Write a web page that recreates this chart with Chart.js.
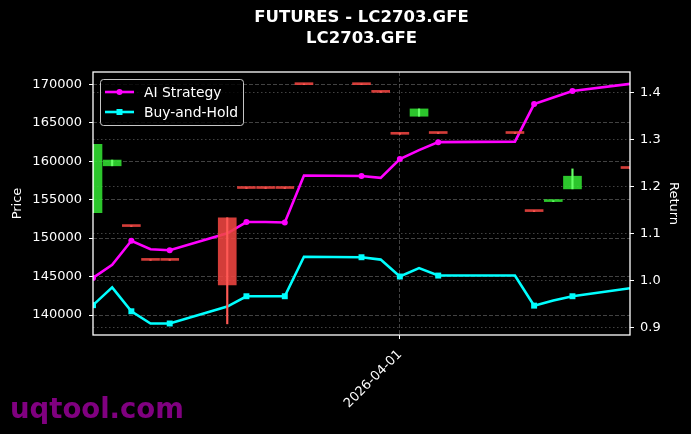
<!DOCTYPE html>
<html>
<head>
<meta charset="utf-8">
<script src="https://cdn.jsdelivr.net/npm/chart.js@4.4.1/dist/chart.umd.min.js"></script>
<style>
  html, body { margin: 0; padding: 0; background: #000; }
  #wrap { width: 691px; height: 434px; }
</style>
</head>
<body>
<div id="wrap"><canvas id="myChart" width="691" height="434"></canvas></div>
<script>
const dates = ['2026-03-16', '2026-03-17', '2026-03-18', '2026-03-19', '2026-03-20',
  '2026-03-23', '2026-03-24', '2026-03-25', '2026-03-26', '2026-03-27',
  '2026-03-30', '2026-03-31', '2026-04-01', '2026-04-02', '2026-04-03',
  '2026-04-07', '2026-04-08', '2026-04-09', '2026-04-10', '2026-04-13'];
const opens  = [153300, 159400, 151600, 147200, 147200, 152650, 156550, 156550, 156550, 170050,
  170050, 169050, 163600, 165850, 163700, 163700, 153550, 154750, 156400, 159150];
const highs  = [162200, 160150, 151600, 147200, 147200, 152650, 156550, 156550, 156550, 170050,
  170050, 169050, 163600, 166800, 163700, 163700, 153550, 154850, 159000, 159150];
const lows   = [153300, 159400, 151500, 147100, 147100, 138850, 156450, 156450, 156450, 169950,
  169950, 168950, 163500, 165850, 163600, 163600, 153450, 154750, 156400, 159050];
const closes = [162200, 160150, 151500, 147100, 147100, 143900, 156450, 156450, 156450, 169950,
  169950, 168950, 163500, 166800, 163600, 163600, 153450, 154850, 158050, 159050];
const aiStrategy = [1.005, 1.033, 1.084, 1.066, 1.064, 1.100, 1.124, 1.124, 1.123, 1.223,
  1.222, 1.218, 1.258, 1.277, 1.294, 1.295, 1.375, 1.389, 1.403, 1.418];
const buyHold = [0.947, 0.985, 0.934, 0.908, 0.908, 0.944, 0.966, 0.966, 0.966, 1.050,
  1.049, 1.044, 1.008, 1.026, 1.010, 1.010, 0.946, 0.957, 0.966, 0.983];
const priceTicks = [140000, 145000, 150000, 155000, 160000, 165000, 170000];
const returnTicks = [0.9, 1.0, 1.1, 1.2, 1.3, 1.4];
const dateTicks = ['2026-04-01'];

const DAY = 86400000;
const t0 = Date.parse(dates[0]);
const dayOf = d => Math.round((Date.parse(d) - t0) / DAY);
const xs = dates.map(dayOf);

const up = closes.map((c, i) => c >= opens[i]);
const bodyColor = up.map(u => u ? 'rgba(50,225,50,0.88)' : 'rgba(240,70,65,0.88)');
const wickColor = up.map(u => u ? '#6f6' : '#ff5a55');

const FONT = "'DejaVu Sans', sans-serif";
const gridGray = 'rgba(120,120,120,0.55)';

const overlay = {
  id: 'overlay',
  afterDraw(chart) {
    const { ctx, chartArea: a } = chart;
    ctx.save();
    // frame
    ctx.strokeStyle = '#fff';
    ctx.lineWidth = 1.3;
    ctx.strokeRect(a.left, a.top, a.right - a.left, a.bottom - a.top);
    // title
    const cx = (a.left + a.right) / 2;
    ctx.fillStyle = '#fff';
    ctx.textAlign = 'center';
    ctx.textBaseline = 'middle';
    ctx.font = 'bold 16.5px ' + FONT;
    ctx.fillText('FUTURES - LC2703.GFE', cx, 18);
    ctx.fillText('LC2703.GFE', cx, 39);
    // legend
    const lx = 100.5, ly = 79.5, lw = 143, lh = 46;
    ctx.beginPath();
    ctx.roundRect(lx, ly, lw, lh, 3);
    ctx.fillStyle = 'rgba(0,0,0,0.8)';
    ctx.fill();
    ctx.strokeStyle = 'rgba(220,220,220,0.9)';
    ctx.lineWidth = 1;
    ctx.stroke();
    const rows = [
      { label: 'AI Strategy', color: '#ff00ff', y: 92, shape: 'circle' },
      { label: 'Buy-and-Hold', color: '#00ffff', y: 112, shape: 'rect' }
    ];
    ctx.font = '13.9px ' + FONT;
    ctx.textAlign = 'left';
    rows.forEach(r => {
      ctx.strokeStyle = r.color;
      ctx.lineWidth = 2.6;
      ctx.beginPath();
      ctx.moveTo(105, r.y);
      ctx.lineTo(134, r.y);
      ctx.stroke();
      ctx.fillStyle = r.color;
      if (r.shape === 'circle') {
        ctx.beginPath();
        ctx.arc(119.5, r.y, 3, 0, Math.PI * 2);
        ctx.fill();
      } else {
        ctx.fillRect(116.5, r.y - 3, 6, 6);
      }
      ctx.fillStyle = '#fff';
      ctx.fillText(r.label, 144, r.y + 1);
    });
    // watermark
    ctx.fillStyle = '#800080';
    ctx.font = 'bold 27.5px ' + FONT;
    ctx.textAlign = 'left';
    ctx.textBaseline = 'alphabetic';
    ctx.fillText('uqtool.com', 10, 418);
    ctx.restore();
  }
};

const markEvery = ctx => (ctx.dataIndex % 2 === 0 ? 3 : 0);

new Chart(document.getElementById('myChart'), {
  data: {
    datasets: [
      {
        type: 'bar',
        label: 'wick',
        data: xs.map((x, i) => ({ x: x, y: [lows[i], highs[i]] })),
        backgroundColor: wickColor,
        barThickness: 1.5,
        grouped: false,
        yAxisID: 'y',
        order: 1,
        clip: 0
      },
      {
        type: 'bar',
        label: 'body',
        data: xs.map((x, i) => ({ x: x, y: [opens[i], closes[i]] })),
        backgroundColor: bodyColor,
        barThickness: 18,
        minBarLength: 2,
        grouped: false,
        yAxisID: 'y',
        order: 2,
        clip: 0
      },
      {
        type: 'line',
        label: 'AI Strategy',
        data: xs.map((x, i) => ({ x: x, y: aiStrategy[i] })),
        borderColor: '#ff00ff',
        backgroundColor: '#ff00ff',
        borderWidth: 2.6,
        pointRadius: markEvery,
        pointStyle: 'circle',
        pointBorderWidth: 0,
        tension: 0,
        yAxisID: 'y1',
        order: 3,
        clip: 0
      },
      {
        type: 'line',
        label: 'Buy-and-Hold',
        data: xs.map((x, i) => ({ x: x, y: buyHold[i] })),
        borderColor: '#00ffff',
        backgroundColor: '#00ffff',
        borderWidth: 2.6,
        pointRadius: ctx => (ctx.dataIndex % 2 === 0 ? 4.2 : 0),
        pointStyle: 'rect',
        pointBorderWidth: 0,
        tension: 0,
        yAxisID: 'y1',
        order: 3,
        clip: 0
      }
    ]
  },
  options: {
    responsive: false,
    animation: false,
    layout: { padding: { top: 72, left: 0, right: 0, bottom: 0 } },
    plugins: {
      legend: { display: false },
      tooltip: { enabled: false },
      title: { display: false }
    },
    scales: {
      x: {
        type: 'linear',
        offset: false,
        min: 0,
        max: dayOf('2026-04-13'),
        afterBuildTicks: axis => { axis.ticks = dateTicks.map(d => ({ value: dayOf(d) })); },
        afterFit: scale => { scale.height = 99; },
        ticks: {
          color: '#fff',
          font: { family: FONT, size: 13 },
          minRotation: 45,
          maxRotation: 45,
          padding: 8,
          callback: v => {
            const d = new Date(t0 + v * DAY);
            return d.toISOString().slice(0, 10);
          }
        },
        grid: { offset: false, color: gridGray, tickColor: '#fff', tickLength: 4 },
        border: { display: false, dash: [4, 2] }
      },
      y: {
        type: 'linear',
        position: 'left',
        min: 137400,
        max: 171600,
        afterBuildTicks: axis => { axis.ticks = priceTicks.map(v => ({ value: v })); },
        afterFit: scale => { scale.width = 93; },
        title: { display: true, text: 'Price', color: '#fff', font: { family: FONT, size: 13 }, padding: { top: 10, bottom: 0 } },
        ticks: { color: '#fff', font: { family: FONT, size: 13 }, padding: 7, callback: v => String(v) },
        grid: { color: gridGray, tickColor: '#fff', tickLength: 4 },
        border: { display: false, dash: [4, 2] }
      },
      y1: {
        type: 'linear',
        position: 'right',
        min: 0.8835,
        max: 1.4433,
        afterBuildTicks: axis => { axis.ticks = returnTicks.map(v => ({ value: v })); },
        afterFit: scale => { scale.width = 61; },
        title: { display: true, text: 'Return', color: '#fff', font: { family: FONT, size: 13 }, padding: { top: 10, bottom: 0 } },
        ticks: { color: '#fff', font: { family: FONT, size: 13 }, padding: 6, callback: v => v.toFixed(1) },
        grid: { color: gridGray, tickColor: '#fff', tickLength: 4 },
        border: { display: false, dash: [1.5, 2.5] }
      }
    }
  },
  plugins: [overlay]
});
</script>
</body>
</html>
